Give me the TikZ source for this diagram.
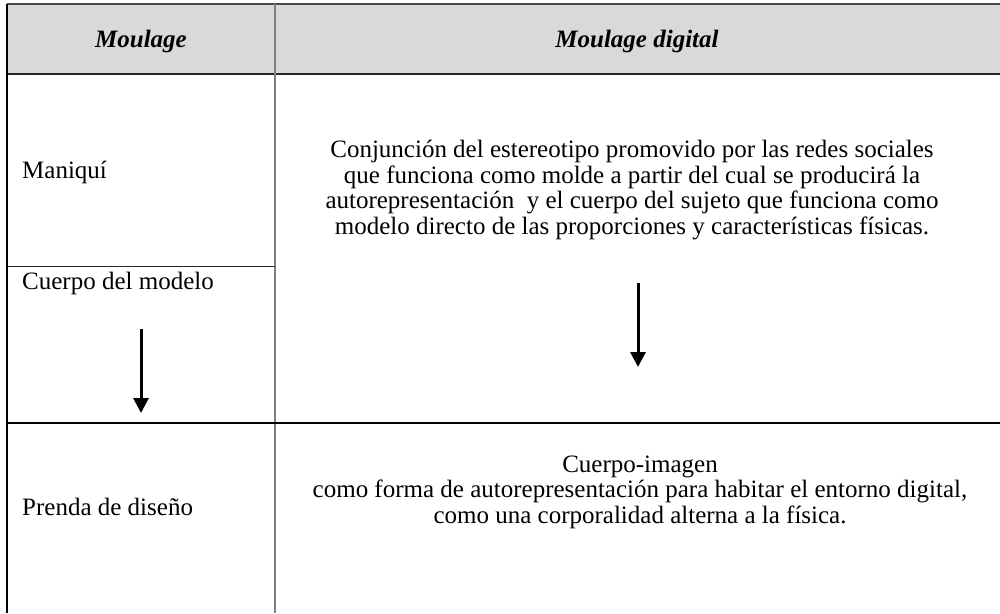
\documentclass[tikz,border=0pt]{standalone}
\usepackage{fontspec}
\setmainfont{Liberation Serif}
\usetikzlibrary{arrows.meta}
\definecolor{hdrfill}{HTML}{D9D9D9}
\definecolor{midgray}{HTML}{808080}
\definecolor{topgray}{HTML}{4A4A4A}
\tikzset{
  txt/.style={inner sep=0pt, font=\fontsize{25}{25.5}\selectfont},
  hdr/.style={txt, font=\fontsize{25}{25}\selectfont\bfseries\itshape},
  lefttxt/.style={txt, anchor=mid west},
  blocktxt/.style={txt, align=center},
  rule/.style={line width=1.2pt, black},
  downarrow/.style={line width=3pt, -{Triangle[width=15pt,length=15pt]}}
}
\begin{document}
\begin{tikzpicture}[x=1pt,y=-1pt]
\useasboundingbox (0,0) rectangle (1000,613);
% header
\fill[hdrfill] (7,4) rectangle (1000,74);
\draw[topgray, line width=1.3pt] (7,4) -- (1000,4);
\draw[line width=1.5pt, black!85] (7,74) -- (1000,74);
% borders
\draw[rule] (7,4) -- (7,613);
\draw[midgray, line width=1.6pt] (275,4) -- (275,613);
\draw[line width=1pt, black!85] (7,266) -- (275,266);
\draw[rule] (7,423) -- (1000,423);
% header texts
\node[hdr] (h1) at (141,41) {Moulage};
\node[hdr] (h2) at (637,41) {Moulage digital};
% left column
\node[lefttxt] (maniqui) at (22,176) {Maniquí};
\node[lefttxt] (cuerpo) at (22,287) {Cuerpo del modelo};
\node[lefttxt] (prenda) at (22,513) {Prenda de diseño};
% right column
\node[blocktxt] (conj) at (632,190) {Conjunción del estereotipo promovido por las redes sociales\\
que funciona como molde a partir del cual se producirá la\\
autorepresentación \ y el cuerpo del sujeto que funciona como\\
modelo directo de las proporciones y características físicas.};
\node[blocktxt] (img) at (640,492) {Cuerpo-imagen\\
como forma de autorepresentación para habitar el entorno digital,\\
como una corporalidad alterna a la física.};
% arrows
\coordinate (la1) at (141,329);
\coordinate (la2) at (141,413);
\coordinate (ra1) at (638,283);
\coordinate (ra2) at (638,367);
\draw[downarrow] (la1) -- (la2);
\draw[downarrow] (ra1) -- (ra2);
\end{tikzpicture}
\end{document}
